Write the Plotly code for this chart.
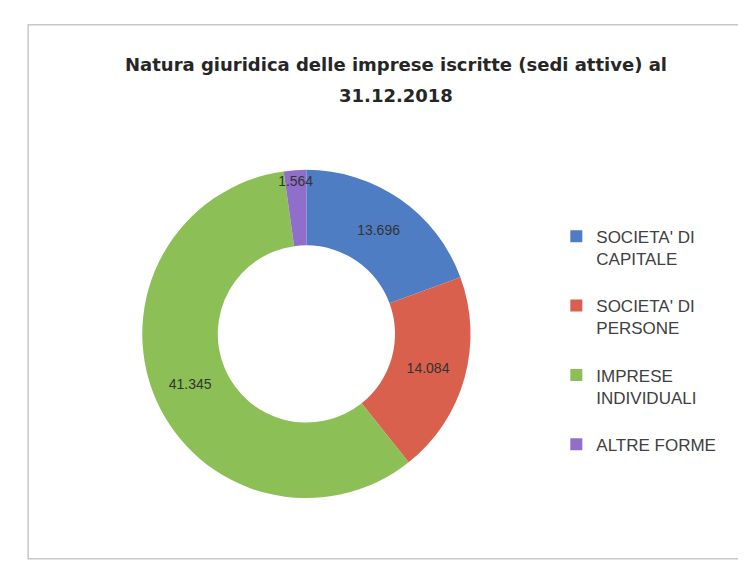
import plotly.graph_objects as go

# dati: sedi attive al 31.12.2018
categorie = [
    "SOCIETA' DI<br>CAPITALE<br> ",
    "SOCIETA' DI<br>PERSONE<br> ",
    "IMPRESE<br>INDIVIDUALI<br> ",
    "ALTRE FORME",
]
valori = [13696, 14084, 41345, 1564]
colori = ["#4f7dc4", "#d9604c", "#8cbf55", "#8f6fc9"]
titolo = ["Natura giuridica delle imprese iscritte (sedi attive) al", "31.12.2018"]

fig = go.Figure(
    go.Pie(
        labels=categorie,
        values=valori,
        hole=0.54,
        sort=False,
        direction="clockwise",
        rotation=0,
        marker=dict(colors=colori, line=dict(color="#ffffff", width=0)),
        texttemplate="%{value:,}",
        textposition="inside",
        insidetextorientation="horizontal",
        textfont=dict(size=14, color="#333333", family="Liberation Sans"),
        domain=dict(x=[0.18, 0.62], y=[0.125, 0.715]),
        hoverinfo="label+value",
    )
)

# titolo su due righe
for i, riga in enumerate(titolo):
    fig.add_annotation(
        text="<b>" + riga + "</b>",
        xref="paper",
        yref="paper",
        x=0.52,
        y=1 - (57 + 30 * i) / 562,
        xanchor="center",
        yanchor="middle",
        showarrow=False,
        font=dict(size=18, color="#262626", family="DejaVu Sans"),
    )

fig.update_layout(
    width=746,
    height=562,
    separators=",.",
    paper_bgcolor="#ffffff",
    margin=dict(l=0, r=0, t=0, b=0),
    uniformtext=dict(minsize=14, mode="show"),
    legend=dict(
        x=0.735,
        y=0.625,
        xanchor="left",
        yanchor="top",
        valign="top",
        font=dict(size=17, color="#404040", family="Liberation Sans"),
        itemwidth=30,
    ),
    shapes=[
        dict(
            type="rect",
            xref="paper",
            yref="paper",
            x0=0.027,
            y0=0.02,
            x1=0.99,
            y1=0.97,
            line=dict(color="#c8c8c8", width=1.5),
        )
    ],
)

fig.write_html("out.html")
